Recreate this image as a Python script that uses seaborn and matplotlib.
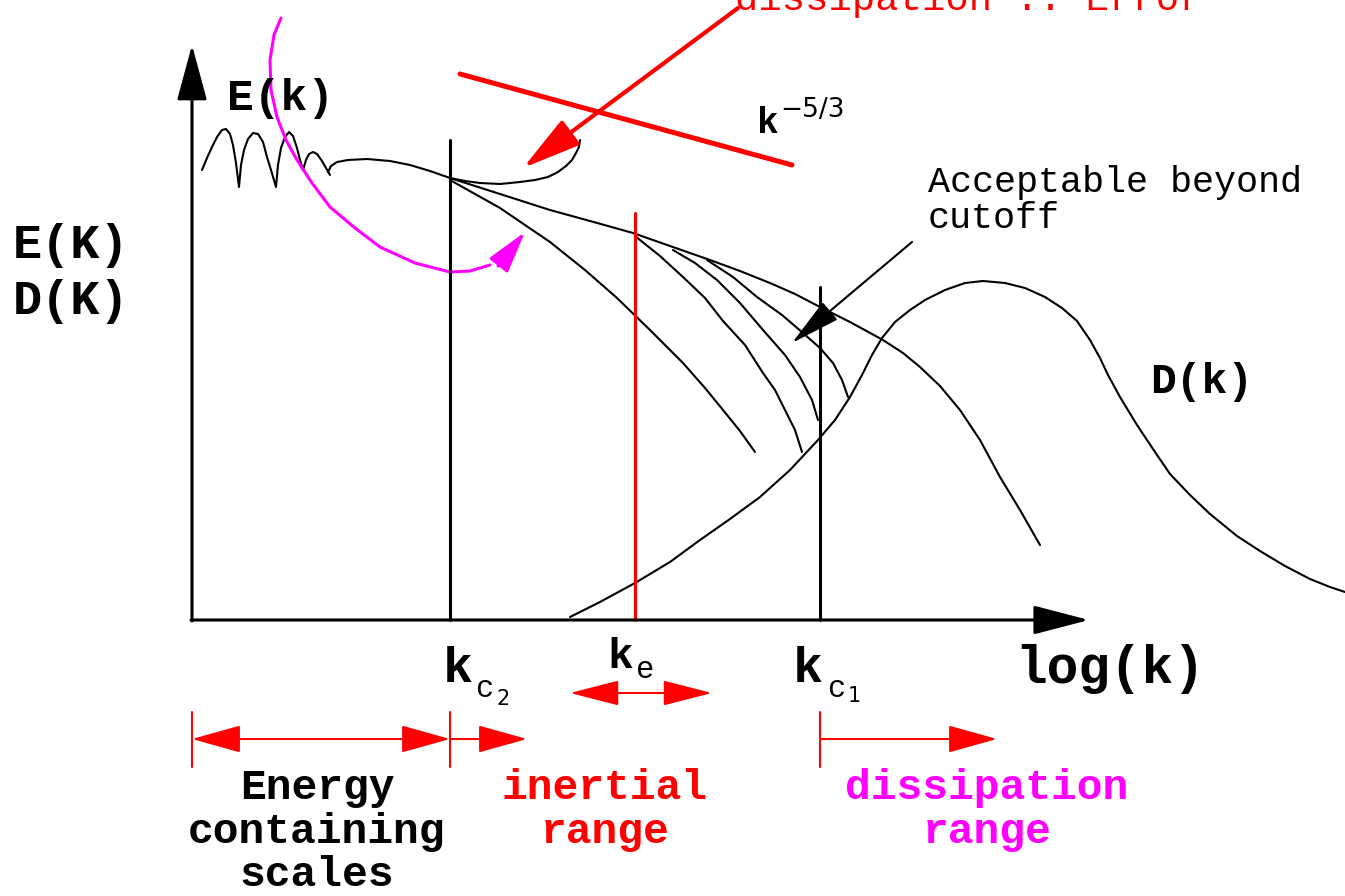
import seaborn as sns
import matplotlib.pyplot as plt
import pandas as pd

# schematic of the energy spectrum E(k) and dissipation spectrum D(k)
# everything is given in picture pixels (x to the right, y downwards)

wiggle_x = [202, 207, 212, 217, 222, 226, 230, 233, 236, 239,
            241, 244, 248, 253, 258, 263, 267, 271, 276,
            278, 281, 285, 289, 293, 297, 300, 303,
            306, 309, 313, 317, 322, 326, 330]
wiggle_y = [170, 158, 147, 137, 130, 129, 134, 145, 163, 187,
            165, 150, 139, 133, 134, 142, 157, 170, 187,
            165, 148, 137, 132, 136, 148, 160, 170,
            160, 154, 152, 154, 161, 168, 175]

hook_x = [328, 331, 337, 348, 367, 390, 410, 430, 450]
hook_y = [172, 166, 162, 160, 159, 161, 165, 171, 178]

spec_x = [450, 475, 500, 525, 550, 590, 633, 670, 710, 740, 770, 795, 820,
          850, 883, 903, 920, 940, 960, 980, 1000, 1020, 1040]
spec_y = [178, 186, 194, 202, 210, 221, 233, 246, 260, 271, 283, 294, 307,
          322, 340, 353, 367, 386, 410, 440, 477, 510, 545]

error_x = [450, 465, 480, 500, 520, 535, 548, 558, 566, 572, 576, 579, 580]
error_y = [178, 181, 183, 184, 182, 180, 177, 172, 166, 160, 153, 147, 140]

branch_a_x = [450, 475, 500, 525, 550, 585, 617, 650, 683, 705, 723, 740, 755]
branch_a_y = [180, 194, 208, 225, 242, 270, 298, 330, 363, 388, 410, 431, 452]
branch_b_x = [635, 660, 683, 705, 723, 745, 763, 775, 785, 795, 802]
branch_b_y = [236, 256, 277, 298, 321, 345, 373, 390, 410, 430, 452]
branch_c_x = [673, 695, 717, 740, 763, 785, 800, 812, 818]
branch_c_y = [250, 263, 280, 303, 330, 355, 377, 400, 420]
branch_d_x = [707, 733, 757, 782, 803, 820, 833, 842, 848]
branch_d_y = [260, 277, 297, 315, 333, 348, 363, 380, 397]

diss_x = [570, 600, 635, 670, 700, 730, 760, 790, 818, 835, 850, 862, 872,
          882, 895, 910, 925, 945, 965, 983, 1005, 1025, 1045, 1062, 1077,
          1090, 1100, 1108, 1120, 1137, 1155, 1170, 1190, 1210, 1237, 1260,
          1285, 1310, 1330, 1345]
diss_y = [617, 602, 583, 562, 540, 519, 497, 470, 440, 420, 397, 375, 355,
          338, 322, 310, 300, 290, 283, 281, 283, 288, 297, 308, 321,
          340, 358, 375, 397, 425, 452, 474, 495, 514, 536, 551,
          566, 579, 587, 592]

arc_x = [281, 274, 270, 271, 277, 286, 297, 312, 330, 355, 380, 415, 450, 470, 490]
arc_y = [18, 35, 60, 90, 117, 140, 160, 183, 207, 228, 247, 263, 272, 271, 265]

slope_x = [460, 792]
slope_y = [74, 165]

# cutoff wavenumbers: kc2, ke, kc1
cut_x = [450, 635, 820]
cut_top = [140, 213, 287]
cut_col = ["black", "red", "black"]

axis_y0 = 620

sns.set_theme(style="white")
plt.rcParams['font.family'] = ['Liberation Mono', 'DejaVu Sans']
plt.rcParams['text.color'] = 'black'

fig = plt.figure(figsize=(13.45, 8.96), dpi=100)
ax = fig.add_axes([0, 0, 1, 1])

def curve(xs, ys, color="black", lw=1.5):
    df = pd.DataFrame({"x": xs, "y": ys})
    sns.lineplot(data=df, x="x", y="y", sort=False, estimator=None,
                 color=color, linewidth=lw, ax=ax)

curve(wiggle_x, wiggle_y)
curve(hook_x, hook_y)
curve(spec_x, spec_y)
curve(error_x, error_y)
curve(branch_a_x, branch_a_y)
curve(branch_b_x, branch_b_y)
curve(branch_c_x, branch_c_y)
curve(branch_d_x, branch_d_y)
curve(diss_x, diss_y)
curve(arc_x, arc_y, color="#ff00ff", lw=2.2)
curve(slope_x, slope_y, color="red", lw=3.6)

for x, top, c in zip(cut_x, cut_top, cut_col):
    ax.plot([x, x], [top, axis_y0], color=c, lw=2.2)

def arrow(tail, tip, L, W, color="black", lw=1.5, style="-|>"):
    ax.annotate("", xy=tip, xytext=tail,
                arrowprops=dict(arrowstyle=f"{style},head_length={L/13.89},head_width={W/13.89}",
                                color=color, lw=lw, shrinkA=0, shrinkB=0,
                                mutation_scale=10))

# axes
arrow((192, axis_y0 + 1), (192, 45), 48, 13, lw=2.2)
arrow((191, axis_y0), (1089, axis_y0), 48, 12.5, lw=2.2)

# pointers
arrow((738, 8), (523, 168), 50, 13, color="red", lw=3)
arrow((498, 266), (525, 232), 36, 10, color="#ff00ff", lw=2.2)
arrow((912, 242), (792, 343), 44, 10, lw=1.5)

# range arrows under the axis
arrow((570, 693), (712, 693), 43, 11, color="red", lw=1.5, style="<|-|>")
arrow((192, 739), (450, 739), 43, 12, color="red", lw=1.5, style="<|-|>")
arrow((450, 739), (527, 739), 43, 12, color="red", lw=1.5)
arrow((820, 739), (997, 739), 43, 12, color="red", lw=1.5)
for x in [192, 450, 820]:
    ax.plot([x, x], [712, 767], color="red", lw=1.5)

# texts
bold = dict(fontweight="bold", va="baseline")
ax.text(13, 258, "E(K)", fontsize=35, **bold)
ax.text(13, 314, "D(K)", fontsize=35, **bold)
ax.text(227, 110, "E(k)", fontsize=32, **bold)
ax.text(1150, 393, "D(k)", fontsize=31, **bold)
ax.text(1015, 683, "log(k)", fontsize=38, **bold)

ax.text(757, 133, "k", fontsize=26, **bold)
ax.text(780, 117, "\u22125/3", fontsize=19, family="DejaVu Sans", va="baseline")

ax.text(735, 10, "dissipation :: Error", fontsize=28, color="red", va="baseline")
ax.text(928, 192, "Acceptable beyond", fontsize=26.5, va="baseline")
ax.text(928, 228, "cutoff", fontsize=26.5, va="baseline")

# wavenumber labels with subscripts
ax.text(443, 682, "k", fontsize=36, **bold)
ax.text(475, 697, "c", fontsize=22, va="baseline")
ax.text(496, 705, "2", fontsize=15, family="DejaVu Sans", va="baseline")
ax.text(607, 668, "k", fontsize=31, **bold)
ax.text(636, 678, "e", fontsize=22, va="baseline")
ax.text(793, 682, "k", fontsize=36, **bold)
ax.text(827, 697, "c", fontsize=22, va="baseline")
ax.text(848, 702, "1", fontsize=15, family="DejaVu Sans", va="baseline")

range_labels = [
    (317, ["Energy", "containing", "scales"], "black"),
    (605, ["inertial", "range"], "red"),
    (987, ["dissipation", "range"], "#ff00ff"),
]
baselines = [799, 843, 886]
for cx, lines, c in range_labels:
    for line, yb in zip(lines, baselines):
        ax.text(cx, yb, line, fontsize=31, color=c, ha="center", **bold)

ax.set_xlim(0, 1345)
ax.set_ylim(896, 0)
ax.axis("off")

fig.savefig("out.png", dpi=100)
